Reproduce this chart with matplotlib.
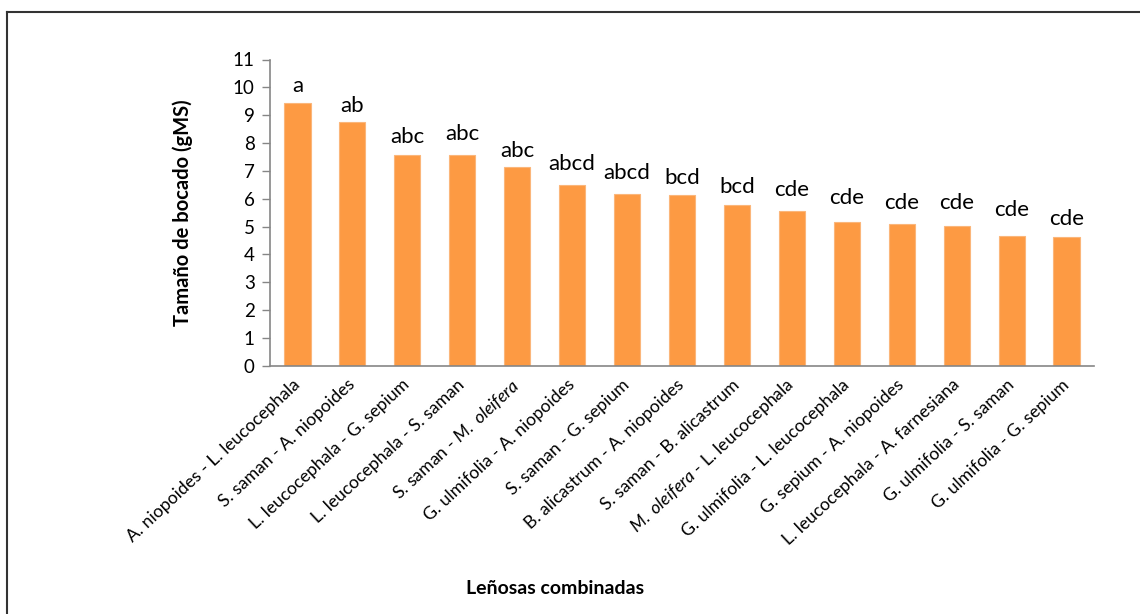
import matplotlib
matplotlib.use('Agg')
import matplotlib.pyplot as plt
from matplotlib.lines import Line2D

plt.rcParams['font.family'] = ['Lato', 'DejaVu Sans']
plt.rcParams['mathtext.fontset'] = 'custom'
plt.rcParams['mathtext.rm'] = 'Lato'
plt.rcParams['mathtext.it'] = 'Lato:italic'

categories = [
    'A. niopoides - L. leucocephala',
    'S. saman - A. niopoides',
    'L. leucocephala - G. sepium',
    'L. leucocephala - S. saman',
    r'S. saman - $\it{M.\ oleifera}$',
    'G. ulmifolia - A. niopoides',
    'S. saman - G. sepium',
    'B. alicastrum - A. niopoides',
    'S. saman - B. alicastrum',
    r'$\it{M.\ oleifera}$ - L. leucocephala',
    'G. ulmifolia - L. leucocephala',
    'G. sepium - A. niopoides',
    'L. leucocephala - A. farnesiana',
    'G. ulmifolia - S. saman',
    'G. ulmifolia - G. sepium',
]
values = [9.45, 8.76, 7.57, 7.56, 7.13, 6.48, 6.16, 6.12, 5.77, 5.56, 5.16, 5.08, 5.02, 4.66, 4.62]
letters = ['a', 'ab', 'abc', 'abc', 'abc', 'abcd', 'abcd', 'bcd', 'bcd',
           'cde', 'cde', 'cde', 'cde', 'cde', 'cde']
letter_y = [9.82, 9.10, 8.01, 8.11, 7.51, 7.03, 6.72, 6.53, 6.19, 6.10, 5.81, 5.62, 5.64, 5.38, 5.04]

fig = plt.figure(figsize=(11.4, 6.14), dpi=100)
ax = fig.add_axes([270 / 1140, 248.3 / 614, 824 / 1140, 306.2 / 614])

x = list(range(len(values)))
ax.bar(x, values, width=0.475, color='#FD9A43', edgecolor='#FBB67A', linewidth=0.8)

for xi, lab, ly in zip(x, letters, letter_y):
    ax.text(xi, ly, lab, ha='center', va='baseline', fontsize=16, color='black')

ax.set_xlim(-0.5, len(values) - 0.5)
ax.set_ylim(0, 11)
ax.set_yticks(range(0, 12))
ax.tick_params(axis='y', labelsize=13.5, length=6, color='#868686', width=1, pad=5)
ax.set_xticks(x)
ax.set_xticklabels(categories, rotation=43, ha='right', va='center',
                   rotation_mode='anchor', fontsize=12.7)
ax.tick_params(axis='x', length=0, pad=12)

for side in ['top', 'right']:
    ax.spines[side].set_visible(False)
for side in ['left', 'bottom']:
    ax.spines[side].set_color('#868686')
    ax.spines[side].set_linewidth(1.2)

ax.set_ylabel('Tamaño de bocado (gMS)', fontsize=14.5, fontweight='bold')
ax.yaxis.set_label_coords(-0.0934, 0.5)
fig.text(555 / 1140, 1 - 588 / 614, 'Leñosas combinadas', ha='center', va='center',
         fontsize=14, fontweight='bold')

# outer chart frame (top and left edges visible in the reference)
fig.add_artist(Line2D([7 / 1140, 1], [1 - 12 / 614, 1 - 12 / 614], color='#333333', lw=1.5))
fig.add_artist(Line2D([7 / 1140, 7 / 1140], [0, 1 - 12 / 614], color='#333333', lw=1.5))

fig.savefig('out.png', dpi=100)
